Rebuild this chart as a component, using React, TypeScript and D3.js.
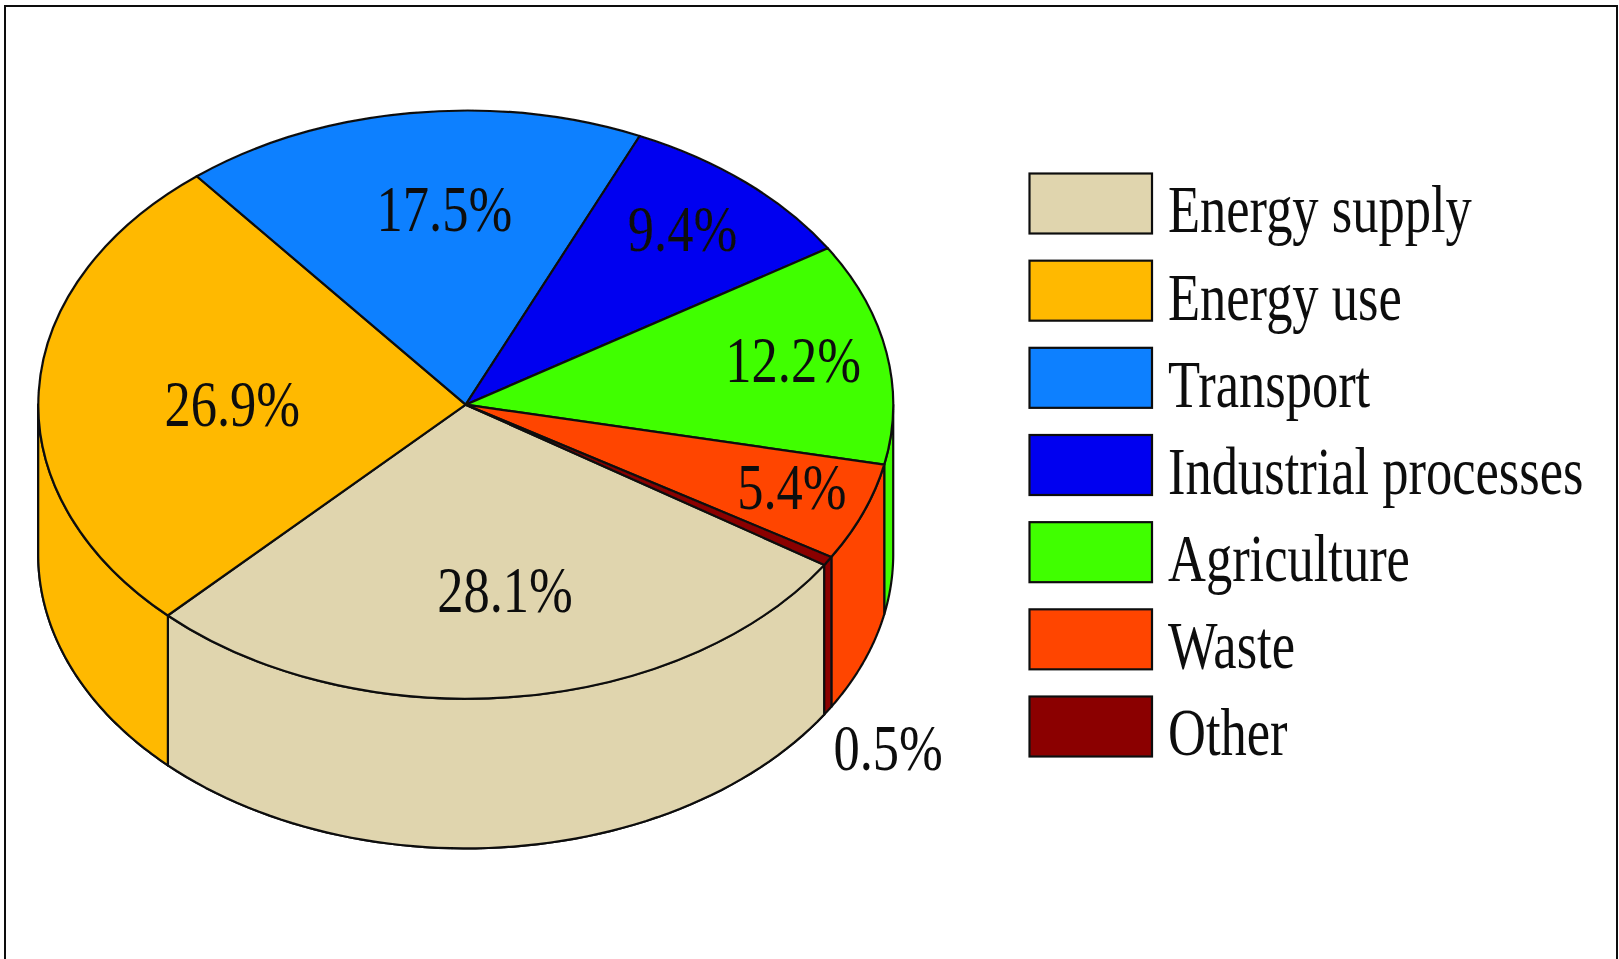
import React from 'react';
import * as d3 from 'd3';

const categories = ['Energy supply', 'Energy use', 'Transport', 'Industrial processes', 'Agriculture', 'Waste', 'Other'];
const shares = [28.1, 26.9, 17.5, 9.4, 12.2, 5.4, 0.5];
const colors = ['#e0d5ae', '#ffb900', '#0a80ff', '#0000f0', '#40ff00', '#ff4500', '#8b0000'];

const WIDTH = 1619;
const HEIGHT = 959;

// pie is an ellipse seen from above
const cx = 465.7;
const cy = 404.7;
const rx = 427.5;
const ry = 294;
const depth = 149.7;
const startAngle = (123 * Math.PI) / 180;

// label centres, in units of the pie radii
const labelAnchors = [
  [0.092, 0.632],
  [-0.546, 0],
  [-0.05, -0.663],
  [0.507, -0.596],
  [0.766, -0.151],
  [0.763, 0.281],
  [0.988, 1.168],
];

const pieGen = d3.pie<number>().sort(null).value((d) => d).startAngle(startAngle).endAngle(startAngle + 2 * Math.PI);
const slices = pieGen(shares);
const arcGen = d3.arc<d3.PieArcDatum<number>>().innerRadius(0).outerRadius(1);

const x = d3.scaleLinear().domain([-1, 1]).range([cx - rx, cx + rx]);
const y = d3.scaleLinear().domain([-1, 1]).range([cy - ry, cy + ry]);
const rimLine = d3.line<number[]>().x((d) => d[0]).y((d) => d[1]);

// side wall of a slice, only the part facing the viewer (pie angle 90deg to 270deg)
const wallPath = (a0: number, a1: number) => {
  const full = Math.PI * 2;
  let from = a0;
  let to = a1;
  let lo = Math.PI / 2;
  let hi = (3 * Math.PI) / 2;
  if (from >= full) {
    lo += full;
    hi += full;
  }
  from = Math.max(from, lo);
  to = Math.min(to, hi);
  if (to <= from) return null;
  const steps = d3.range(0, 61).map((i) => from + ((to - from) * i) / 60);
  const rim = steps.map((a) => [x(Math.sin(a)), y(-Math.cos(a))]);
  const lower = rim.map((p) => [p[0], p[1] + depth]).reverse();
  return rimLine([...rim, ...lower]) + 'Z';
};

const walls = slices.flatMap((s, i) =>
  [0, Math.PI * 2].map((shift) => ({ d: wallPath(s.startAngle + shift, s.endAngle + shift), fill: colors[i] })),
).filter((w) => w.d);

const legendY = d3.scalePoint<string>().domain(categories).range([203.5, 726.5]);

const serif = '"Liberation Serif", "Times New Roman", serif';

export default function App() {
  return (
    <svg
      width={WIDTH}
      height={HEIGHT}
      viewBox={`0 0 ${WIDTH} ${HEIGHT}`}
      style={{ position: 'absolute', left: 0, top: 0, background: '#fff' }}
    >
      <defs>
        <filter id="soft" x="0" y="0" width="100%" height="100%">
          <feGaussianBlur stdDeviation="0.6" />
        </filter>
      </defs>
      <g filter="url(#soft)">
        <path
          d={`M4.5,${HEIGHT} V5.5 H1617.5 V${HEIGHT}`}
          fill="none"
          stroke="#111"
          strokeWidth={3}
        />

        {walls.map((w, i) => (
          <path key={i} d={w.d as string} fill={w.fill} stroke="#111" strokeWidth={2.2} strokeLinejoin="round" />
        ))}

        <g transform={`translate(${cx},${cy}) scale(${rx},${ry})`}>
          {slices.map((s, i) => (
            <path
              key={categories[i]}
              d={arcGen(s) as string}
              fill={colors[i]}
              stroke="#111"
              strokeWidth={2.2}
              strokeLinejoin="round"
              vectorEffect="non-scaling-stroke"
            />
          ))}
        </g>

        {shares.map((v, i) => (
          <text
            key={i}
            transform={`translate(${x(labelAnchors[i][0])},${y(labelAnchors[i][1])}) scale(1,1.25)`}
            textAnchor="middle"
            dy="0.33em"
            fontFamily={serif}
            fontSize={52.5}
            fill="#111"
          >
            {v.toFixed(1)}%
          </text>
        ))}

        {categories.map((c, i) => (
          <g key={c} transform={`translate(0,${legendY(c)})`}>
            <rect x={1029.5} y={-30} width={122.5} height={60} fill={colors[i]} stroke="#111" strokeWidth={2.2} />
            <text
              transform="translate(1168,0) scale(1,1.28)"
              dy="0.43em"
              fontFamily={serif}
              fontSize={52.5}
              fill="#111"
            >
              {c}
            </text>
          </g>
        ))}
      </g>
    </svg>
  );
}
